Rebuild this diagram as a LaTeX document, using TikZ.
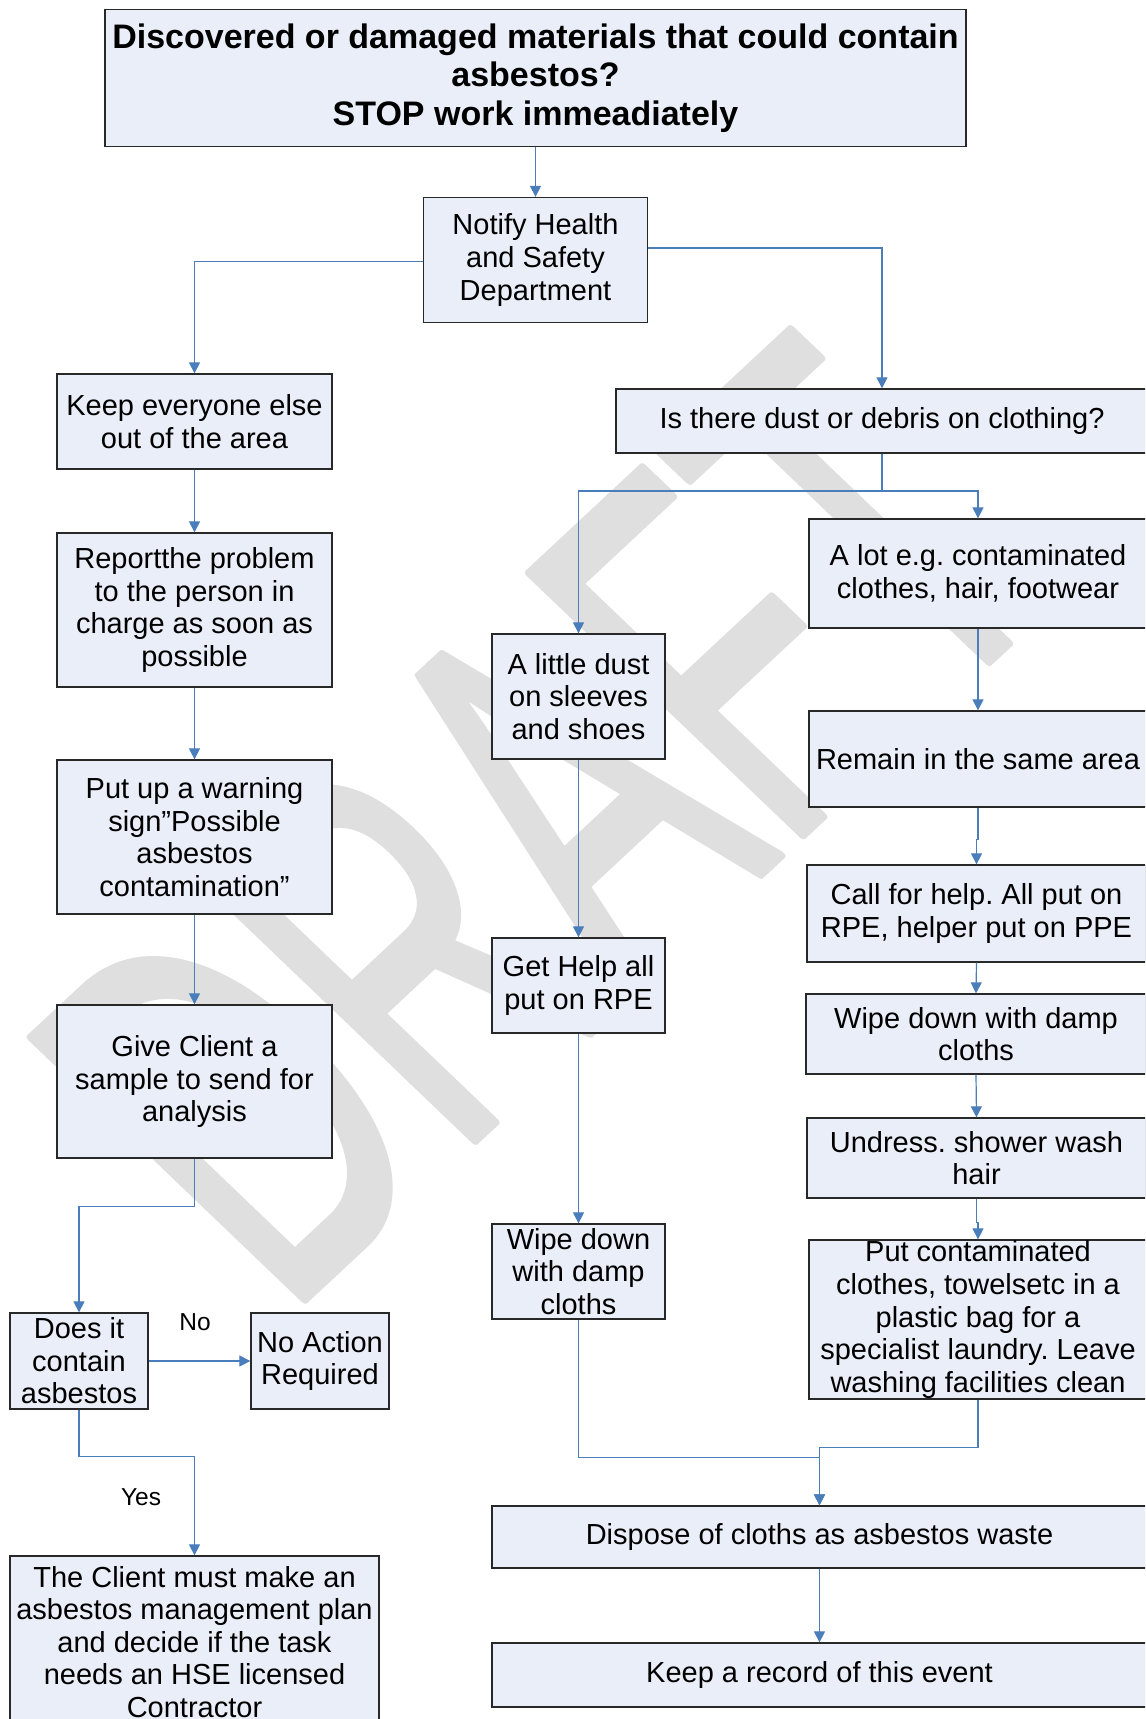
\documentclass[tikz,border=0pt]{standalone}
\usepackage{fontspec}
\setmainfont{Liberation Sans}
\newfontfamily\wmfont[FakeBold=1.5]{Liberation Sans}
\usetikzlibrary{arrows.meta}
\definecolor{boxfill}{RGB}{233,238,248}
\definecolor{boxdraw}{RGB}{40,40,40}
\definecolor{connblue}{RGB}{74,126,187}
\definecolor{wmgray}{RGB}{223,223,223}
\tikzset{
  box/.style={draw=boxdraw, fill=boxfill, line width=1.3bp, inner sep=0pt,
    align=center, font=\fontsize{29bp}{32.6bp}\selectfont},
  conline/.style={draw=connblue, line width=1.2bp},
  arr/.style={conline, -{Triangle[length=11bp,width=11bp]}},
  lbl/.style={inner sep=0pt, font=\fontsize{24.5bp}{28bp}\selectfont}
}
\frenchspacing
\begin{document}
\begin{tikzpicture}[x=1bp, y=-1bp]
\useasboundingbox (0,0) rectangle (1145,1719);
\clip (0,0) rectangle (1145,1719);
\fill[white] (0,0) rectangle (1145,1719);

% watermark
\begin{scope}[cm={2.36,2.20,-3.98,3.81,(284,1319)}, line join=round]
\node[transform shape, anchor=base west, inner sep=0pt, text=wmgray,
  font=\wmfont\fontsize{100bp}{100bp}\selectfont] (wm) at (0,0) {DRAFT};
\end{scope}

% boxes
\node[box, minimum width=861bp, minimum height=137bp,
  font=\fontsize{34bp}{38.4bp}\selectfont\bfseries] (top) at (535.5,78)
  {Discovered or damaged materials that could contain\\asbestos?\\STOP work immeadiately};
\node[box, minimum width=224bp, minimum height=125bp] (notify) at (535.5,260)
  {Notify Health\\and Safety\\Department};
\node[box, minimum width=275bp, minimum height=95bp] (keep) at (194.5,421.5)
  {Keep everyone else\\out of the area};
\node[box, minimum width=532bp, minimum height=64bp] (dust) at (882,421)
  {Is there dust or debris on clothing?};
\node[box, minimum width=275bp, minimum height=154bp] (report) at (194.5,610)
  {Reportthe problem\\to the person in\\charge as soon as\\possible};
\node[box, minimum width=338bp, minimum height=109bp] (alot) at (978,573.5)
  {A lot e.g. contaminated\\clothes, hair, footwear};
\node[box, minimum width=173bp, minimum height=125bp] (little) at (578.5,696.5)
  {A little dust\\on sleeves\\and shoes};
\node[box, minimum width=338bp, minimum height=96bp] (remain) at (978,759)
  {Remain in the same area};
\node[box, minimum width=275bp, minimum height=154bp] (putup) at (194.5,837)
  {Put up a warning\\sign”Possible\\asbestos\\contamination”};
\node[box, minimum width=339bp, minimum height=97bp] (call) at (976.5,913.5)
  {Call for help. All put on\\RPE, helper put on PPE};
\node[box, minimum width=173bp, minimum height=95bp] (gethelp) at (578.5,985.5)
  {Get Help all\\put on RPE};
\node[box, minimum width=340bp, minimum height=80bp] (wipeR) at (976,1034)
  {Wipe down with damp\\cloths};
\node[box, minimum width=275bp, minimum height=153bp] (give) at (194.5,1081.5)
  {Give Client a\\sample to send for\\analysis};
\node[box, minimum width=339bp, minimum height=80bp] (undress) at (976.5,1158)
  {Undress. shower wash\\hair};
\node[box, minimum width=173bp, minimum height=95bp] (wipeL) at (578.5,1271.5)
  {Wipe down\\with damp\\cloths};
\node[box, minimum width=338bp, minimum height=159bp] (putcont) at (978,1319.5)
  {Put contaminated\\clothes, towelsetc in a\\plastic bag for a\\specialist laundry. Leave\\washing facilities clean};
\node[box, minimum width=138bp, minimum height=96bp] (does) at (79,1361)
  {Does it\\contain\\asbestos};
\node[box, minimum width=138bp, minimum height=96bp] (noaction) at (320,1361)
  {No Action\\Required};
\node[box, minimum width=655bp, minimum height=62bp] (dispose) at (819.5,1537)
  {Dispose of cloths as asbestos waste};
\node[box, minimum width=369bp, minimum height=172bp] (client) at (194.5,1642)
  {The Client must make an\\asbestos management plan\\and decide if the task\\needs an HSE licensed\\Contractor};
\node[box, minimum width=655bp, minimum height=64bp] (record) at (819.5,1675)
  {Keep a record of this event};

% labels
\node[lbl] (nolbl) at (195,1322) {No};
\node[lbl] (yeslbl) at (141,1497) {Yes};

% connectors
\draw[arr] (top.south) -- (notify.north);
\draw[arr] ([yshift=-1.5bp]notify.west) -| (keep.north);
\draw[arr] ([yshift=12bp]notify.east) -| (dust.north);
\coordinate (split) at (882,491);
\draw[conline] (dust.south) -- (split);
\draw[arr] (split) -| (little.north);
\draw[arr] (split) -| (alot.north);
\draw[arr] (alot.south) -- (remain.north);
\draw[arr] (remain.south) -- ++(0,32) -| (call.north);
\draw[arr] (call.south) -- (wipeR.north);
\draw[arr] (wipeR.south) -- (undress.north);
\draw[arr] (undress.south) -- ++(0,24) -| (putcont.north);
\draw[arr] (keep.south) -- (report.north);
\draw[arr] (report.south) -- (putup.north);
\draw[arr] (putup.south) -- (give.north);
\draw[arr] (little.south) -- (gethelp.north);
\draw[arr] (gethelp.south) -- (wipeL.north);
\draw[arr] (wipeL.south) -- ++(0,138) -| (dispose.north);
\draw[arr] (putcont.south) -- ++(0,48) -| (dispose.north);
\draw[arr] (dispose.south) -- (record.north);
\draw[arr] (give.south) -- ++(0,48) -| (does.north);
\draw[arr] (does.east) -- (noaction.west);
\draw[arr] (does.south) -- ++(0,47) -| (client.north);
\end{tikzpicture}
\end{document}
